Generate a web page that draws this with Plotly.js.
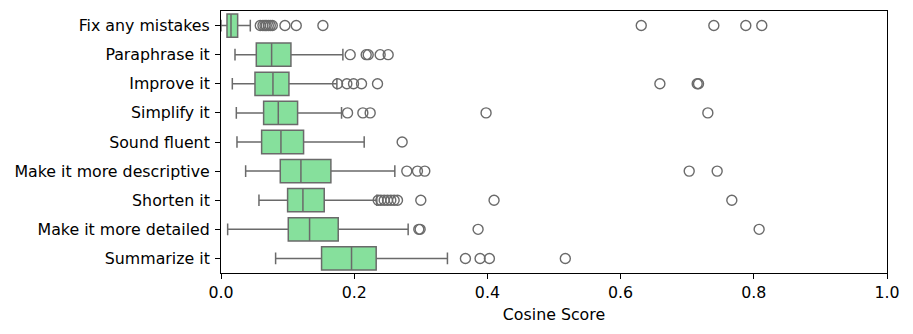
<!DOCTYPE html>
<html>
<head>
<meta charset="utf-8">
<script src="https://cdn.plot.ly/plotly-3.0.1.min.js"></script>
<style>
  html, body { margin: 0; padding: 0; background: #fff; }
  #chart { width: 913px; height: 334px; }
</style>
</head>
<body>
<div id="chart"></div>
<script>
// prompt categories, top to bottom
var categories = ["Fix any mistakes", "Paraphrase it", "Improve it", "Simplify it", "Sound fluent",
  "Make it more descriptive", "Shorten it", "Make it more detailed", "Summarize it"];

// box statistics
var lowerFence = [0.000, 0.021, 0.017, 0.023, 0.024, 0.037, 0.057, 0.010, 0.082];
var q1         = [0.009, 0.053, 0.051, 0.064, 0.061, 0.089, 0.100, 0.101, 0.151];
var median     = [0.015, 0.076, 0.078, 0.086, 0.090, 0.120, 0.123, 0.133, 0.196];
var q3         = [0.025, 0.105, 0.102, 0.115, 0.124, 0.165, 0.155, 0.176, 0.233];
var upperFence = [0.044, 0.183, 0.174, 0.181, 0.215, 0.261, 0.234, 0.281, 0.340];

// outliers per category
var outliers = [
  [0.059, 0.063, 0.066, 0.068, 0.071, 0.074, 0.077, 0.096, 0.113, 0.153, 0.631, 0.740, 0.788, 0.812],
  [0.194, 0.218, 0.221, 0.239, 0.251],
  [0.175, 0.189, 0.199, 0.211, 0.235, 0.659, 0.715, 0.717],
  [0.190, 0.213, 0.224, 0.398, 0.731],
  [0.272],
  [0.279, 0.295, 0.306, 0.703, 0.745],
  [0.236, 0.240, 0.245, 0.250, 0.255, 0.260, 0.265, 0.300, 0.410, 0.767],
  [0.297, 0.299, 0.386, 0.808],
  [0.367, 0.389, 0.403, 0.517]
];

var FILL = "#86e09c", LINE = "#6a6a6a";

var outX = [], outY = [];
outliers.forEach(function (list, i) {
  list.forEach(function (v) { outX.push(v); outY.push(categories[i]); });
});

var traces = [
  {
    type: "box", orientation: "h",
    y: categories,
    q1: q1, median: median, q3: q3,
    lowerfence: lowerFence, upperfence: upperFence,
    boxpoints: false,
    width: 0.8, whiskerwidth: 0.5,
    fillcolor: FILL,
    line: { color: LINE, width: 1.5 },
    hoverinfo: "x+y"
  },
  {
    type: "scatter", mode: "markers",
    x: outX, y: outY,
    marker: { symbol: "circle-open", size: 10, color: LINE, line: { color: LINE, width: 1.4 } },
    hoverinfo: "x+y"
  }
];

var layout = {
  width: 913, height: 334,
  margin: { l: 221, r: 26, t: 11, b: 61 },
  showlegend: false,
  paper_bgcolor: "#fff", plot_bgcolor: "#fff",
  font: { family: "DejaVu Sans, sans-serif", size: 15.8, color: "#000" },
  xaxis: {
    range: [0, 1], tickvals: [0, 0.2, 0.4, 0.6, 0.8, 1.0], tickformat: ".1f",
    showgrid: false, zeroline: false,
    showline: true, mirror: true, linecolor: "#000", linewidth: 1,
    ticks: "outside", ticklen: 5, tickcolor: "#000",
    title: { text: "Cosine Score", font: { size: 15.8 }, standoff: 7 }
  },
  yaxis: {
    type: "category", categoryorder: "array", categoryarray: categories,
    range: [8.5, -0.5],
    showgrid: false, zeroline: false,
    showline: true, mirror: true, linecolor: "#000", linewidth: 1,
    ticks: "outside", ticklen: 5, tickcolor: "#000", ticklabelstandoff: 2
  }
};

Plotly.newPlot("chart", traces, layout, { displayModeBar: false, staticPlot: true });
</script>
</body>
</html>
